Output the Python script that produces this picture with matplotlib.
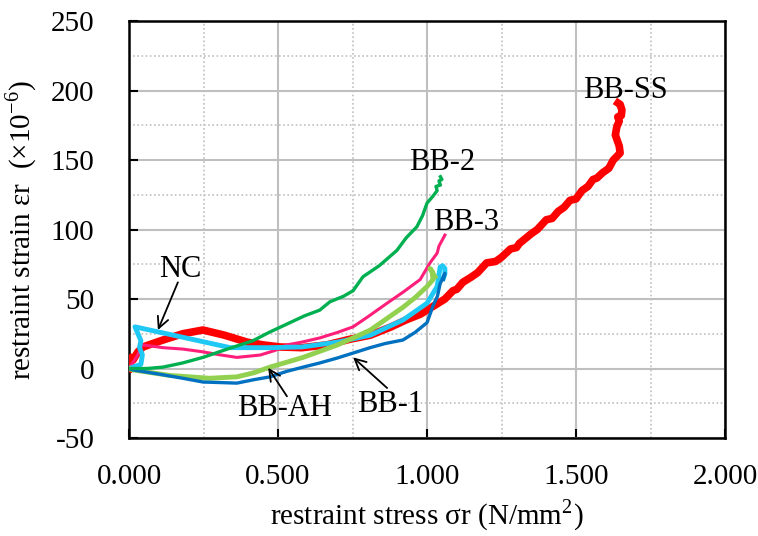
"""
Restraint stress vs restraint strain
"""
import matplotlib.pyplot as plt
from matplotlib.ticker import MultipleLocator, FormatStrFormatter

plt.rcParams['font.family'] = ['Liberation Serif', 'DejaVu Serif']
plt.rcParams['mathtext.fontset'] = 'stix'
plt.rcParams['axes.unicode_minus'] = False

# ---------------------------------------------------------------------------
# data (stress N/mm2, strain x1e-6)
# ---------------------------------------------------------------------------
ss_x = [0.0, 0.008, 0.013, 0.03, 0.047, 0.08, 0.114, 0.18, 0.248, 0.32, 0.396, 0.45,
        0.507, 0.58, 0.664, 0.74, 0.81, 0.88, 0.93, 0.977, 1.03, 1.06, 1.087, 1.10,
        1.12, 1.15, 1.17, 1.2, 1.23, 1.25, 1.28, 1.30, 1.31, 1.35, 1.37, 1.40,
        1.42, 1.44, 1.46, 1.48, 1.50, 1.52, 1.54, 1.557, 1.57, 1.59, 1.61, 1.625,
        1.648, 1.645, 1.632, 1.637, 1.645, 1.640, 1.652, 1.654, 1.648, 1.641]
ss_y = [0.0, 8, 6, 12, 15.5, 18, 20.5, 25, 27.7, 24, 19, 17,
        15.5, 15, 17, 21, 24, 30, 35, 39, 46, 50, 56, 57,
        62, 66, 69, 76, 77, 80, 86, 87, 90, 97, 100, 107,
        108, 113, 116, 121, 122, 128, 131, 136, 137, 141, 144, 150,
        155, 160, 168, 174, 178, 181, 182, 186, 190, 191]

bb2_x = [0.0, 0.06, 0.114, 0.18, 0.248, 0.33, 0.416, 0.47, 0.53, 0.59, 0.64, 0.674,
         0.72, 0.752, 0.785, 0.84, 0.899, 0.93, 0.966, 0.985, 1.0, 1.02, 1.034,
         1.03, 1.045, 1.04, 1.05, 1.045]
bb2_y = [0.0, 0.0, 1, 4, 8, 14, 20, 26, 32, 38, 42, 48,
         52, 56, 66, 74, 85, 94, 102, 110, 119, 124, 128,
         131, 132, 135, 136, 138]

bb3_x = [0.0, 0.03, 0.044, 0.08, 0.114, 0.18, 0.248, 0.30, 0.362, 0.44, 0.49, 0.53,
         0.58, 0.64, 0.70, 0.752, 0.80, 0.866, 0.92, 0.977, 1.01, 1.034, 1.04, 1.06]
bb3_y = [0.0, 10, 17, 16, 15, 14, 12, 10, 8, 9.7, 13, 17,
         19, 22, 26, 30, 37, 47, 55, 64, 76, 83, 88, 96]

nc_x = [0.0, 0.04, 0.045, 0.035, 0.04, 0.03, 0.02, 0.34, 0.40, 0.47, 0.58, 0.70,
        0.81, 0.92, 1.0, 1.034, 1.044, 1.052, 1.06, 1.06, 1.055]
nc_y = [0.0, 3, 10, 15, 20, 25, 30, 15, 15, 15, 15.5, 19,
        24, 35, 47, 59, 73, 74, 72, 68, 65]

bb1_x = [0.0, 0.013, 0.10, 0.18, 0.248, 0.362, 0.42, 0.473, 0.53, 0.584, 0.64, 0.698,
         0.75, 0.809, 0.86, 0.919, 0.96, 1.0, 1.02, 1.035, 1.044, 1.06, 1.055]
bb1_y = [0.0, -1, -4, -7, -9.7, -10.5, -8, -6, -2, 1, 4, 7.5,
         11, 15, 18, 20.5, 26, 33, 45, 52, 61, 68.5, 64]

ah_x = [0.0, 0.013, 0.138, 0.27, 0.362, 0.42, 0.473, 0.584, 0.70, 0.81, 0.919, 0.96,
        1.0, 1.02, 1.017, 1.01, 1.027]
ah_y = [0.0, -1, -5, -7, -6, -3, 1, 8, 17, 27.7, 44, 51,
        59, 64, 70, 72, 66]

# plain labels: (text, x, y)
labels = [('BB-SS', 1.665, 200),
          ('BB-2', 1.05, 148.5),
          ('BB-3', 1.13, 105)]
# arrow labels: (text, text x, text y, tail x, tail y, tip x, tip y)
arrow_labels = [('NC', 0.171, 71, 0.164, 62, 0.097, 27.7),
                ('BB-AH', 0.523, -28.5, 0.530, -20, 0.467, 0.5),
                ('BB-1', 0.876, -26, 0.866, -14, 0.752, 8)]

fig = plt.figure(figsize=(7.58, 5.36), dpi=100)
ax = fig.add_axes([0.1702, 0.1828, 0.7863, 0.7780])

ax.plot(ss_x, ss_y, color='#FF0000', linewidth=5.5, solid_joinstyle='round', zorder=3)
ax.plot(bb3_x, bb3_y, color='#FF1F7A', linewidth=2.2, zorder=4)
ax.plot(nc_x, nc_y, color='#1FC8F5', linewidth=3.5, zorder=5)
ax.plot(ah_x, ah_y, color='#92D050', linewidth=3.5, zorder=6)
ax.plot(bb1_x, bb1_y, color='#0070C0', linewidth=2.4, zorder=7)
ax.plot(bb2_x, bb2_y, color='#00B050', linewidth=2.4, zorder=8)

for text, tx, ty in labels:
    ax.text(tx, ty, text, fontsize=22, ha='center', va='center', zorder=10)

for text, tx, ty, x0, y0, x1, y1 in arrow_labels:
    ax.text(tx, ty, text, fontsize=22, ha='center', va='center', zorder=10)
    ax.annotate('', xy=(x1, y1), xytext=(x0, y0), zorder=10,
                arrowprops=dict(arrowstyle='->', color='black', lw=1.3,
                                shrinkA=0, shrinkB=0, mutation_scale=20))

ax.set_xlim(0, 2.0)
ax.set_ylim(-50, 250)
ax.xaxis.set_major_locator(MultipleLocator(0.5))
ax.xaxis.set_minor_locator(MultipleLocator(0.25))
ax.yaxis.set_major_locator(MultipleLocator(50))
ax.yaxis.set_minor_locator(MultipleLocator(25))
ax.xaxis.set_major_formatter(FormatStrFormatter('%.3f'))

ax.grid(True, which='major', color='#BFBFBF', linewidth=1.5, linestyle='-')
ax.grid(True, which='minor', color='#BFBFBF', linewidth=1.2, linestyle=(0, (1, 1.5)))
ax.set_axisbelow(True)

ax.tick_params(which='major', direction='in', length=6.5, width=1.5, labelsize=21)
ax.tick_params(axis='y', which='major', pad=25)
ax.tick_params(axis='x', which='major', pad=19)
ax.tick_params(which='minor', length=0)
for s in ax.spines.values():
    s.set_linewidth(1.8)

ax.set_xlabel('restraint stress σr (N/mm$^{\\mathregular{2}}$)', fontsize=21, labelpad=6)
ax.set_ylabel('restraint strain εr  (×10$^{\\mathregular{-6}}$)', fontsize=21, labelpad=8)

plt.savefig('out.png', dpi=100)
